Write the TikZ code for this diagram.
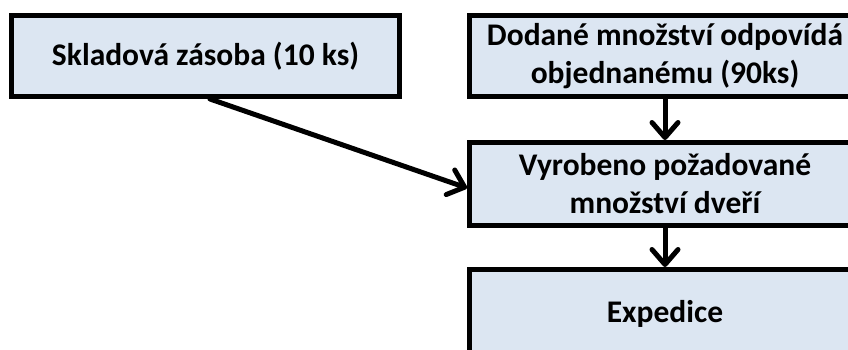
\documentclass[tikz,border=0pt]{standalone}
\usepackage{fontspec}
\setmainfont{Carlito}
\usetikzlibrary{arrows.meta}
\definecolor{boxfill}{HTML}{DCE6F2}
\tikzset{
  flowbox/.style={draw=black, line width=5pt, fill=boxfill, inner sep=0pt,
    align=center, font=\fontsize{31.5}{38}\selectfont\bfseries},
  flowarrow/.style={draw=black, line width=5pt, line cap=round,
    -{Straight Barb[length=15pt, width=26pt, round]}}
}
\begin{document}
\begin{tikzpicture}[x=1pt, y=-1pt]
  \useasboundingbox (0,0) rectangle (848,350);
  \clip (0,0) rectangle (848,350);
  % stock box on the left
  \node[flowbox, minimum width=388pt, minimum height=81pt] (stock) at (205.5,56)
    {Skladová zásoba (10 ks)};
  % right-hand column
  \node[flowbox, minimum width=391pt, minimum height=81pt] (delivered) at (665,56)
    {Dodané množství odpovídá\\objednanému (90ks)};
  \node[flowbox, minimum width=391pt, minimum height=83pt] (made) at (665,184)
    {Vyrobeno požadované\\množství dveří};
  \node[flowbox, minimum width=391pt, minimum height=88pt] (ship) at (665,313.5)
    {Expedice};
  % connectors
  \draw[flowarrow] ([xshift=4.5pt]stock.south) -- ([yshift=-4pt]made.west);
  \draw[flowarrow] (delivered.south) -- (made.north);
  \draw[flowarrow] (made.south) -- (ship.north);
\end{tikzpicture}
\end{document}
